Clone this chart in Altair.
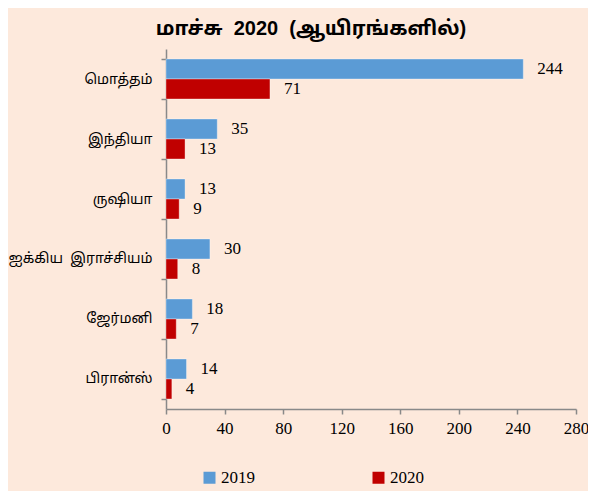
import altair as alt
import pandas as pd

categories = ["மொத்தம்", "இந்தியா", "ருஷியா", "ஐக்கிய\u00a0 இராச்சியம்", "ஜேர்மனி", "பிரான்ஸ்"]
years = ["2019", "2020"]
values_2019 = [244, 35, 13, 30, 18, 14]
values_2020 = [71, 13, 9, 8, 7, 4]
colors = ["#5B9BD5", "#C00000"]
x_ticks = [0, 40, 80, 120, 160, 200, 240, 280]

rows = []
for c, a, b in zip(categories, values_2019, values_2020):
    rows.append({"country": c, "year": "2019", "value": a})
    rows.append({"country": c, "year": "2020", "value": b})
df = pd.DataFrame(rows)

SERIF = "Liberation Serif"
TAMIL = "Noto Sans Tamil, Latha, Lohit Tamil, sans-serif"
GRAY = "#898989"

base = alt.Chart(df).encode(
    y=alt.Y(
        "country:N",
        sort=categories,
        scale=alt.Scale(paddingInner=0.333, paddingOuter=0.1667),
        axis=alt.Axis(
            title=None, tickBand="extent", labelFont=TAMIL, labelFontSize=14,
            labelColor="black", domainColor=GRAY, tickColor=GRAY, tickSize=5,
            labelPadding=9, domainWidth=1.5, tickWidth=1.5,
        ),
    ),
    yOffset=alt.YOffset("year:N", sort=years, scale=alt.Scale(paddingInner=0, paddingOuter=0)),
)

bars = base.mark_bar(stroke="white", strokeOpacity=0.35, strokeWidth=1).encode(
    x=alt.X(
        "value:Q",
        scale=alt.Scale(domain=[0, 280], nice=False),
        axis=alt.Axis(
            values=x_ticks, title=None, grid=False, labelFont=SERIF, labelFontSize=17,
            labelColor="black", domainColor=GRAY, tickColor=GRAY, tickSize=5,
            labelPadding=6, labelFlush=False, labelOverlap=False,
            domainWidth=1.5, tickWidth=1.5,
        ),
    ),
    color=alt.Color(
        "year:N",
        scale=alt.Scale(domain=years, range=colors),
        legend=alt.Legend(
            title=None, orient="none", legendX=35, legendY=420, direction="horizontal",
            symbolType="square", symbolSize=144, symbolStrokeWidth=0,
            labelFont=SERIF, labelFontSize=17, labelColor="black",
            columnPadding=115, labelOffset=3,
        ),
    ),
)

text = base.mark_text(align="left", baseline="middle", dx=14, font=SERIF, fontSize=17, color="black").encode(
    x=alt.X("value:Q"),
    text=alt.Text("value:Q"),
)

chart = alt.layer(bars, text).properties(
    width=410,
    height=360,
    title=alt.TitleParams(
        "மாச்சு\u00a0 2020\u00a0 (ஆயிரங்களில்)", font="Liberation Sans, " + TAMIL, fontSize=20,
        fontWeight="bold", color="black", anchor="middle", dx=-60, offset=3,
    ),
    background="#FDE9DC",
    padding={"left": 158, "top": 41, "right": 12, "bottom": 82},
    autosize=alt.AutoSizeParams(type="none"),
).configure_view(stroke=None)

chart.save("out.html", embed_options={"renderer": "svg", "actions": False})
